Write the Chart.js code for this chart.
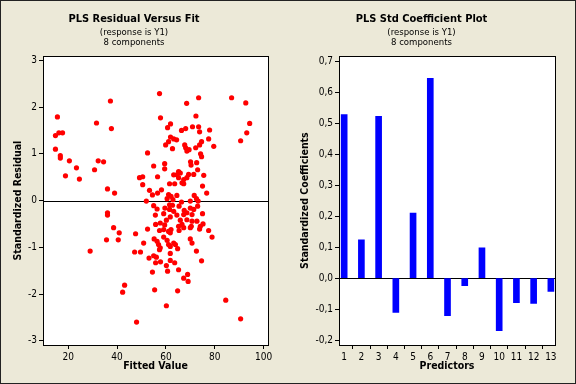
<!DOCTYPE html>
<html>
<head>
<meta charset="utf-8">
<script src="https://cdn.jsdelivr.net/npm/chart.js@4.4.1/dist/chart.umd.min.js"></script>
<style>
  body { margin: 0; background: #ECE9D8; }
  #wrap { position: relative; width: 576px; height: 384px; background: #ECE9D8; }
  canvas { position: absolute; top: 0; }
  #left_chart { left: 0; }
  #right_chart { left: 288px; }
  #frame { position: absolute; left: 0; top: 0; width: 576px; height: 384px; box-sizing: border-box; border: 1px solid #222; pointer-events: none; }
</style>
</head>
<body>
<div id="wrap">
  <canvas id="left_chart" width="288" height="384"></canvas>
  <canvas id="right_chart" width="288" height="384"></canvas>
  <div id="frame"></div>
</div>
<script>
// residual vs fit
const fittedValues = [
  14.8, 15.6, 16.2, 17.7, 14.8, 16.8, 16.8, 20.5, 18.9, 23.4, 24.6, 30.8, 31.6, 32.3, 34.5, 37.3, 37.7, 36.1, 39.0, 36.1,
  36.1, 49.2, 50.5, 50.5, 52.5, 52.0, 53.3, 38.6, 40.9, 35.7, 40.5, 47.6, 52.5, 50.9, 47.2, 49.6, 53.1, 29.0, 43.1, 42.3,
  48.0, 57.4, 68.5, 73.4, 86.9, 92.7, 57.8, 72.3, 94.3, 93.1, 90.6, 55.0, 56.6, 79.6, 77.9, 77.5, 75.5, 75.0, 76.7, 61.9,
  60.7, 66.4, 68.1, 70.9, 73.4, 73.8, 61.9, 63.2, 64.4, 61.1, 59.9, 62.7, 67.7, 68.1, 68.6, 69.5, 72.2, 73.8, 74.6, 74.2,
  74.6, 59.5, 70.1, 72.6, 59.5, 70.3, 73.0, 63.2, 64.5, 65.2, 65.9, 65.2, 66.6, 67.3, 68.6, 69.3, 71.4, 61.5, 63.6, 67.3,
  54.5, 56.6, 58.2, 61.1, 62.1, 62.9, 64.5, 60.5, 66.4, 70.0, 71.6, 72.5, 73.2, 55.0, 56.4, 59.6, 61.5, 63.2, 65.4, 67.5,
  70.0, 71.4, 73.0, 55.7, 59.1, 61.8, 64.5, 67.3, 68.6, 70.7, 75.0, 60.2, 65.9, 68.6, 70.7, 72.7, 55.8, 57.7, 59.5, 65.2,
  66.6, 70.4, 74.1, 75.2, 57.4, 59.1, 61.1, 62.1, 65.4, 67.3, 70.0, 73.8, 77.5, 61.8, 78.9, 55.2, 56.4, 57.0, 57.7, 57.4,
  59.1, 60.5, 61.1, 61.8, 63.2, 63.9, 61.8, 64.8, 70.0, 70.7, 72.5, 74.6, 55.0, 56.1, 55.8, 57.8, 60.2, 61.8, 63.6, 60.7,
  65.2, 54.5, 67.3, 68.9, 69.1, 55.4, 64.8, 84.5, 90.6, 60.2, 61.5, 62.7
];
const stdResiduals = [
  1.39, 1.79, 1.45, 1.45, 1.10, 0.96, 0.91, 0.85, 0.53, 0.70, 0.46, 0.66, 1.66, 0.85, 0.83, 2.13, 1.54, 0.25, 0.16, -0.26,
  -0.31, 0.49, 0.51, 0.34, 1.02, -0.01, 0.22, -0.58, -0.69, -0.84, -0.84, -0.71, -0.61, -0.91, -1.10, -1.10, -1.23, -1.08, -1.81, -1.96,
  -2.60, 2.29, 2.08, 2.20, 2.20, 2.09, 1.77, 1.81, 1.65, 1.45, 1.28, 0.74, 0.51, 1.16, 1.51, 1.32, 0.54, 0.31, 0.16, 1.64,
  1.56, 1.50, 1.54, 1.58, 1.58, 1.47, 1.36, 1.32, 1.30, 1.26, 1.19, 1.11, 1.19, 1.13, 1.06, 1.09, 1.13, 1.19, 1.26, 1.00,
  0.94, 0.79, 0.83, 0.81, 0.68, 0.76, 0.66, 0.55, 0.55, 0.62, 0.59, 0.49, 0.38, 0.45, 0.49, 0.56, 0.56, 0.36, 0.36, 0.36,
  0.12, 0.16, 0.23, 0.13, 0.09, 0.02, 0.11, 0.04, -0.03, -0.01, 0.11, 0.04, -0.01, -0.11, -0.18, -0.16, -0.19, -0.23, -0.12, -0.21,
  -0.16, -0.19, -0.12, -0.31, -0.28, -0.35, -0.31, -0.30, -0.26, -0.30, -0.28, -0.42, -0.42, -0.41, -0.44, -0.44, -0.51, -0.48, -0.52, -0.55,
  -0.51, -0.55, -0.55, -0.50, -0.64, -0.62, -0.66, -0.62, -0.64, -0.58, -0.58, -0.61, -0.64, -0.69, -0.78, -0.82, -0.87, -0.94, -1.01, -1.05,
  -0.78, -0.85, -0.94, -0.98, -0.91, -0.94, -1.13, -1.03, -0.82, -0.91, -1.08, -1.29, -1.18, -1.21, -1.33, -1.31, -1.39, -1.28, -1.33, -1.51,
  -1.48, -1.53, -1.66, -1.58, -1.73, -1.91, -1.93, -2.13, -2.53, -2.25, -0.09, -0.10
];
const residXTicks = [20, 40, 60, 80, 100];
const residYTicks = [-3, -2, -1, 0, 1, 2, 3];

// standardized coefficients
const predictors = [1, 2, 3, 4, 5, 6, 7, 8, 9, 10, 11, 12, 13];
const coefficients = [0.528, 0.124, 0.523, -0.111, 0.210, 0.645, -0.121, -0.024, 0.098, -0.170, -0.079, -0.082, -0.043];
const coefYTicks = [-0.2, -0.1, 0.0, 0.1, 0.2, 0.3, 0.4, 0.5, 0.6, 0.7];

const fontFamily = "'DejaVu Sans Condensed', 'Liberation Sans', Arial, sans-serif";

// white plot area, zero line and box around it
const plotFrame = {
    id: 'plotFrame',
    beforeDraw(chart) {
        const {ctx, chartArea: a} = chart;
        ctx.save();
        ctx.fillStyle = '#fff';
        ctx.fillRect(a.left, a.top, a.width, a.height);
        ctx.restore();
    },
    beforeDatasetsDraw(chart) {
        const {ctx, chartArea: a, scales} = chart;
        const y0 = Math.round(scales.y.getPixelForValue(0)) + 0.5;
        ctx.save();
        ctx.strokeStyle = '#000';
        ctx.lineWidth = 1;
        ctx.beginPath();
        ctx.moveTo(a.left, y0);
        ctx.lineTo(a.right, y0);
        ctx.stroke();
        ctx.restore();
    },
    afterDraw(chart) {
        const {ctx, chartArea: a} = chart;
        ctx.save();
        ctx.strokeStyle = '#000';
        ctx.lineWidth = 1;
        ctx.strokeRect(Math.round(a.left) + 0.5, Math.round(a.top) + 0.5, Math.round(a.width), Math.round(a.height));
        ctx.restore();
    }
};

function titles(main) {
    return {
        title: {
            display: true, text: main, color: '#000',
            font: {family: fontFamily, size: 11, weight: 'bold', lineHeight: 1.2},
            padding: {top: 12.5, bottom: 0}
        },
        subtitle: {
            display: true, text: ['(response is Y1)', '8 components'], color: '#000',
            font: {family: fontFamily, size: 9.5, lineHeight: 1.05},
            padding: {top: 1.5, bottom: 9}
        },
        legend: {display: false},
        tooltip: {enabled: false}
    };
}

function axisStyle(width) {
    return {
        border: {display: true, color: '#000'},
        grid: {display: true, drawOnChartArea: false, drawTicks: true, tickLength: 4, color: '#000'},
        ticks: {color: '#000', font: {family: fontFamily, size: 10}, padding: 2, maxRotation: 0, autoSkip: false},
        afterFit(scale) {
            if (scale.isHorizontal()) scale.height = 39;
            else scale.width = width;
        }
    };
}

const ticksFrom = list => scale => { scale.ticks = list.map(v => ({value: v})); };

new Chart(document.getElementById('left_chart'), {
    type: 'scatter',
    data: {
        datasets: [{
            data: fittedValues.map((x, i) => ({x: x, y: stdResiduals[i]})),
            backgroundColor: '#FF0000',
            borderColor: '#FF0000',
            pointRadius: 2.6,
            borderWidth: 0
        }]
    },
    options: {
        responsive: false,
        animation: false,
        layout: {padding: {left: 0, right: 20, top: 0, bottom: 0}},
        plugins: titles('PLS Residual Versus Fit'),
        scales: {
            x: Object.assign(axisStyle(43), {
                type: 'linear', min: 9.7, max: 101.8,
                afterBuildTicks: ticksFrom(residXTicks),
                title: {display: true, text: 'Fitted Value', color: '#000',
                        font: {family: fontFamily, size: 10.5, weight: 'bold', lineHeight: 1.2},
                        padding: {top: 0, bottom: 11.5}}
            }),
            y: Object.assign(axisStyle(43), {
                type: 'linear', min: -3.09, max: 3.09,
                afterBuildTicks: ticksFrom(residYTicks),
                title: {display: true, text: 'Standardized Residual', color: '#000',
                        font: {family: fontFamily, size: 10.5, weight: 'bold', lineHeight: 1.2},
                        padding: {top: 11.5, bottom: 0}}
            })
        }
    },
    plugins: [plotFrame]
});

new Chart(document.getElementById('right_chart'), {
    type: 'bar',
    data: {
        datasets: [{
            data: predictors.map((p, i) => ({x: p, y: coefficients[i]})),
            backgroundColor: '#0000FF',
            borderWidth: 0,
            barThickness: 6
        }]
    },
    options: {
        responsive: false,
        animation: false,
        layout: {padding: {left: 0, right: 21, top: 0, bottom: 0}},
        plugins: titles('PLS Std Coefficient Plot'),
        scales: {
            x: Object.assign(axisStyle(51), {
                type: 'linear', min: 0.70, max: 13.24, offset: false,
                afterBuildTicks: ticksFrom(predictors),
                title: {display: true, text: 'Predictors', color: '#000',
                        font: {family: fontFamily, size: 10.5, weight: 'bold', lineHeight: 1.2},
                        padding: {top: 0, bottom: 11.5}}
            }),
            y: Object.assign(axisStyle(51), {
                type: 'linear', min: -0.216, max: 0.717,
                afterBuildTicks: ticksFrom(coefYTicks),
                title: {display: true, text: 'Standardized Coefficients', color: '#000',
                        font: {family: fontFamily, size: 10.5, weight: 'bold', lineHeight: 1.2},
                        padding: {top: 10.5, bottom: 0}}
            })
        }
    },
    plugins: [plotFrame]
});

// decimal comma on the coefficient axis
Chart.getChart('right_chart').options.scales.y.ticks.callback = v => v.toFixed(1).replace('.', ',');
Chart.getChart('right_chart').update();
</script>
</body>
</html>
